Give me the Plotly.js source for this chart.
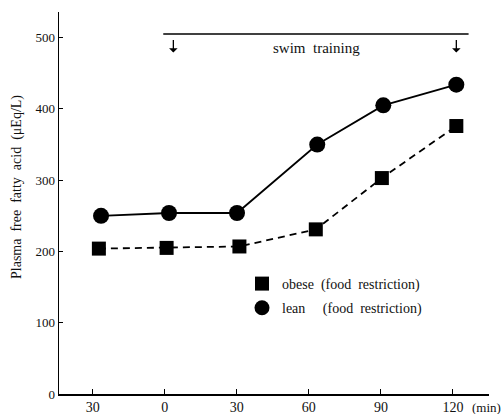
<!DOCTYPE html>
<html><head><meta charset="utf-8">
<script src="https://cdn.plot.ly/plotly-3.0.1.min.js"></script>
<style>html,body{margin:0;padding:0;background:#fff}#chart{width:503px;height:414px}</style>
</head><body><div id="chart"></div>
<script>
// Data
const tickVals = [-30, 0, 30, 60, 90, 120];
const tickText = ["30", "0", "30", "60", "90", "120"];
const leanX = [-26.5, 1.8, 30.1, 63.5, 91, 121.4];
const leanY = [250, 254, 254, 350, 405, 434];
const obeseX = [-27.4, 0.8, 31.1, 62.9, 90.4, 121.4];
const obeseY = [204, 205, 207, 231, 303, 376];
const obeseName = "obese&nbsp;&nbsp;(food&nbsp;&nbsp;restriction)";
const leanName = "lean&nbsp;&nbsp;&nbsp;&nbsp;&nbsp;(food&nbsp;&nbsp;restriction)";
const swimStart = -0.6, swimEnd = 126.5, swimLevel = 505;
const arrowX = [3.6, 121.4];

const F = "Liberation Serif";
const traces = [
  {x: leanX, y: leanY, mode: "lines+markers", showlegend: false,
   line: {color: "#000", width: 1.8, dash: "solid"},
   marker: {symbol: "circle", size: 16, color: "#000"}},
  {x: obeseX, y: obeseY, mode: "lines+markers", showlegend: false,
   line: {color: "#000", width: 1.8, dash: "7px,5px"},
   marker: {symbol: "square", size: 14, color: "#000"}},
  {x: [null], y: [null], mode: "markers", name: obeseName, showlegend: true, legendgroup: "a",
   marker: {symbol: "square", size: 14, color: "#000"}},
  {x: [null], y: [null], mode: "markers", name: leanName, showlegend: true, legendgroup: "b",
   marker: {symbol: "circle", size: 15, color: "#000"}}
];
const annotations = [
  {xref: "paper", yref: "paper", x: (17-59)/430, y: (394-187)/382, text: "Plasma&nbsp;&nbsp;free&nbsp;&nbsp;fatty&nbsp;&nbsp;acid&nbsp;&nbsp;(μEq/L)",
   textangle: -90, showarrow: false, xanchor: "center", yanchor: "middle", font: {family: F, size: 14, color: "#111"}},
  {xref: "x", yref: "y", x: 63, y: 485, text: "swim&nbsp;&nbsp;training", showarrow: false,
   font: {family: F, size: 15, color: "#111"}},
  {xref: "paper", yref: "paper", x: (486-59)/430, y: (394-407)/382, text: "(min)", showarrow: false,
   xanchor: "center", yanchor: "middle", font: {family: F, size: 13, color: "#111"}}
].concat(arrowX.map(ax => ({xref: "x", yref: "y", x: ax, y: 479, text: "", showarrow: true,
   ax: 0, ay: -14, arrowhead: 1, arrowsize: 1.1, arrowwidth: 1.3, arrowcolor: "#000", standoff: 0})));

const layout = {
  width: 503, height: 414,
  margin: {l: 59, r: 14, t: 12, b: 20},
  paper_bgcolor: "#fff", plot_bgcolor: "#fff",
  font: {family: F, color: "#111"},
  xaxis: {range: [-44, 135], tickvals: tickVals, ticktext: tickText, showgrid: false, zeroline: false,
          showline: true, linecolor: "#000", linewidth: 1.5, ticks: "inside", ticklen: 5, tickcolor: "#000",
          tickfont: {family: F, size: 14, color: "#111"}},
  yaxis: {range: [0, 536], tickvals: [0, 100, 200, 300, 400, 500], showgrid: false, zeroline: false,
          showline: true, linecolor: "#000", linewidth: 1.5, ticks: "inside", ticklen: 4, tickcolor: "#000",
          tickfont: {family: F, size: 13, color: "#111"}},
  shapes: [{type: "line", xref: "x", yref: "y", x0: swimStart, x1: swimEnd, y0: swimLevel, y1: swimLevel,
            line: {color: "#000", width: 1.5}}],
  annotations: annotations,
  showlegend: true,
  legend: {x: (242-59)/430, y: (394-268)/382, xanchor: "left", yanchor: "top", bgcolor: "rgba(0,0,0,0)",
           font: {family: F, size: 14, color: "#111"}, itemwidth: 30, tracegroupgap: 3}
};
Plotly.newPlot("chart", traces, layout, {displayModeBar: false, staticPlot: true});
</script></body></html>
